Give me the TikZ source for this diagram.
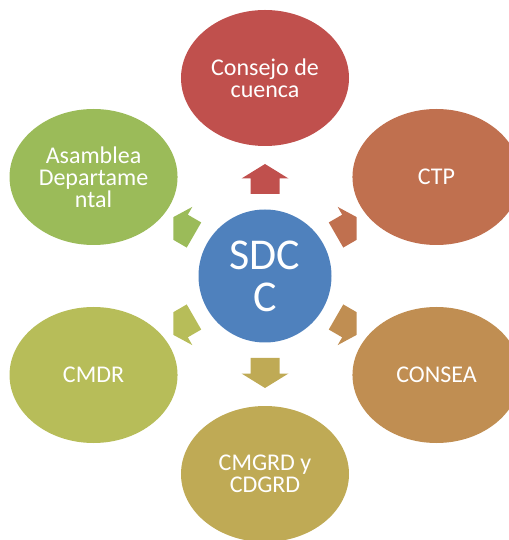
\documentclass[tikz,border=0pt]{standalone}
\usepackage{fontspec}
\setmainfont{Carlito}
\usetikzlibrary{shapes.geometric}

\definecolor{azul}{HTML}{4F81BD}
\definecolor{rojo}{HTML}{C0504D}
\definecolor{teja}{HTML}{C0704F}
\definecolor{ocre}{HTML}{C08E52}
\definecolor{oliva}{HTML}{BFAA55}
\definecolor{lima}{HTML}{B7BD59}
\definecolor{verde}{HTML}{9BBB59}

\providecommand{\ovalfontsize}{\fontsize{24}{22}\selectfont}
\providecommand{\hubfontsize}{\fontsize{44}{42}\selectfont}

\tikzset{
    oval/.style={ellipse,fill=#1,text=white,minimum width=168pt,minimum height=136pt,inner sep=0pt,align=center,font=\ovalfontsize},
    hub/.style={circle,fill=azul,text=white,minimum size=133pt,inner sep=0pt,align=center,font=\hubfontsize}
}

\begin{document}
\begin{tikzpicture}[x=1pt,y=1pt]
    \pgfmathsetmacro{\ringradius}{198}
    \pgfmathsetmacro{\shaftstart}{82}
    \pgfmathsetmacro{\headstart}{97.5}
    \pgfmathsetmacro{\tipend}{112}
    \pgfmathsetmacro{\shafthalf}{14.5}
    \pgfmathsetmacro{\headhalf}{23.5}
    % \pgfmathsetmacro{\bandhalf}{97}
    \pgfmathsetmacro{\bandhalf}{91.5}
    \useasboundingbox (-265,-264) rectangle (243,276);
    \node[hub] (sdcc) at (0,0) {SDC\\C};
    \node[oval=rojo] (consejo) at (90:\ringradius) {Consejo de\\cuenca};
    \node[oval=teja] (ctp) at (30:\ringradius) {CTP};
    \node[oval=ocre] (consea) at (-30:\ringradius) {CONSEA};
    \node[oval=oliva] (cmgrd) at (-90:\ringradius) {CMGRD y\\CDGRD};
    \node[oval=lima] (cmdr) at (-150:\ringradius) {CMDR};
    \node[oval=verde] (asamblea) at (150:\ringradius) {Asamblea\\Departame\\ntal};
    \begin{scope}
        \clip (-\bandhalf,-264) rectangle (\bandhalf,276);
        \foreach \ang/\col in {90/rojo,30/teja,-30/ocre,-90/oliva,-150/lima,150/verde}
            \fill[\col,rotate=\ang] (\shaftstart,-\shafthalf) -- (\headstart,-\shafthalf) -- (\headstart,-\headhalf) -- (\tipend,0) -- (\headstart,\headhalf) -- (\headstart,\shafthalf) -- (\shaftstart,\shafthalf) -- cycle;
    \end{scope}
\end{tikzpicture}
\end{document}
